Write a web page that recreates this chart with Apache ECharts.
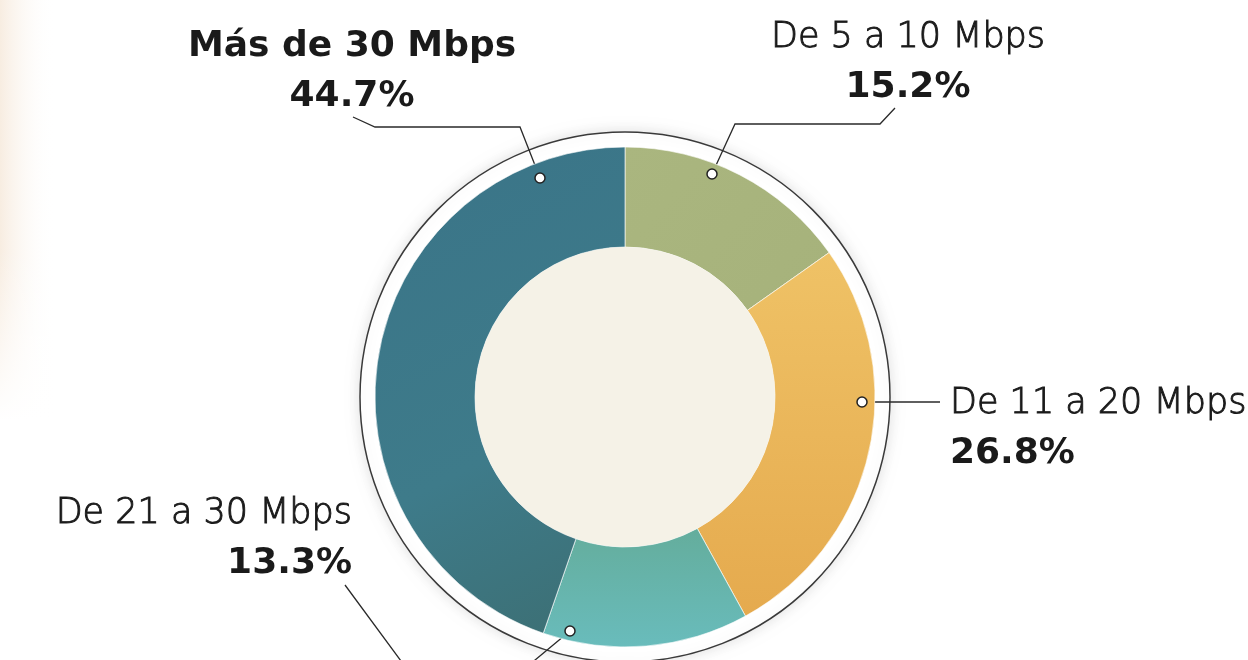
<!DOCTYPE html>
<html>
<head>
<meta charset="utf-8">
<script src="https://cdn.jsdelivr.net/npm/echarts@6/dist/echarts.min.js"></script>
<style>
html,body{margin:0;padding:0;background:#fff;}
#main{width:1248px;height:660px;}
</style>
</head>
<body>
<div id="main"></div>
<script>
// datos
var categorias = ['De 5 a 10 Mbps', 'De 11 a 20 Mbps', 'De 21 a 30 Mbps', 'Más de 30 Mbps'];
var porcentajes = [15.2, 26.8, 13.3, 44.7];

var colores = [
    new echarts.graphic.LinearGradient(0, 0, 1, 1, [{offset: 0, color: '#aab67f'}, {offset: 1, color: '#a6b27b'}]),
    new echarts.graphic.LinearGradient(0, 0, 0, 1, [{offset: 0, color: '#efc266'}, {offset: 1, color: '#e5aa4e'}]),
    new echarts.graphic.LinearGradient(0, 0, 0, 1, [{offset: 0, color: '#64ad9c'}, {offset: 1, color: '#69bcbc'}]),
    new echarts.graphic.LinearGradient(0, 0, 1, 1, [{offset: 0, color: '#3a7488'}, {offset: 0.6, color: '#3e7b8a'}, {offset: 1, color: '#3c6e72'}])
];

// posicion de etiquetas y lineas guia
var posEtiquetas = [
    {x: 908, y: 13, align: 'center'},
    {x: 950, y: 379, align: 'left'},
    {x: 352, y: 489, align: 'right'},
    {x: 352, y: 22, align: 'center'}
];
var lineas = [
    [[712, 174], [735, 124], [880, 124], [895, 108]],
    [[862, 402], [940, 402]],
    [[570, 631], [511, 680], [415, 680], [345, 585]],
    [[540, 178], [520, 127], [375, 127], [353, 117]]
];

var datos = categorias.map(function (c, i) {
    return {name: c, value: porcentajes[i], itemStyle: {color: colores[i]}};
});

var puntos = lineas.map(function (l) {
    return {
        type: 'circle',
        z: 100,
        shape: {cx: l[0][0], cy: l[0][1], r: 5},
        style: {fill: '#fff', stroke: '#222', lineWidth: 1.5}
    };
});

var fuente = 'DejaVu Sans';

var myChart = echarts.init(document.getElementById('main'));

var option = {
    backgroundColor: '#fff',
    textStyle: {fontFamily: fuente},
    graphic: [{
        type: 'rect',
        z: -10,
        shape: {x: 0, y: 0, width: 55, height: 420},
        style: {
            fill: new echarts.graphic.LinearGradient(0, 0, 1, 0, [
                {offset: 0, color: 'rgba(244,229,212,0.7)'},
                {offset: 1, color: 'rgba(255,255,255,0)'}
            ])
        }
    }, {
        type: 'rect',
        z: -9,
        shape: {x: 0, y: 250, width: 60, height: 171},
        style: {
            fill: new echarts.graphic.LinearGradient(0, 0, 0, 1, [
                {offset: 0, color: 'rgba(255,255,255,0)'},
                {offset: 1, color: 'rgba(255,255,255,1)'}
            ])
        }
    }].concat(puntos),
    series: [
        {
            // aro exterior
            type: 'pie',
            silent: true,
            z: 1,
            center: [625, 397],
            radius: [0, 265],
            label: {show: false},
            labelLine: {show: false},
            itemStyle: {
                color: '#fff',
                borderColor: '#3a3a3a',
                borderWidth: 1.5,
                shadowBlur: 14,
                shadowColor: 'rgba(0,0,0,0.12)'
            },
            data: [{value: 1, name: ''}]
        },
        {
            type: 'pie',
            z: 2,
            center: [625, 397],
            radius: [150, 250],
            startAngle: 90,
            clockwise: true,
            avoidLabelOverlap: false,
            silent: true,
            itemStyle: {borderColor: 'rgba(255,255,255,0.35)', borderWidth: 1},
            label: {
                show: true,
                formatter: function (p) {
                    var pct = p.value.toFixed(1) + '%';
                    if (p.dataIndex === 3) {
                        return '{b|' + p.name + '}\n{p|' + pct + '}';
                    }
                    return '{n|' + p.name + '}\n{p|' + pct + '}';
                },
                rich: {
                    // trazo fino para engrosar un poco la letra ligera
                    n: {fontSize: 35, fontWeight: 300, color: '#1a1a1a', lineHeight: 50, fontFamily: fuente,
                        textBorderColor: '#1a1a1a', textBorderWidth: 0.9},
                    b: {fontSize: 36, fontWeight: 'bold', color: '#1a1a1a', lineHeight: 50, fontFamily: fuente},
                    p: {fontSize: 36, fontWeight: 'bold', color: '#1a1a1a', lineHeight: 50, fontFamily: fuente}
                }
            },
            labelLine: {
                show: true,
                lineStyle: {color: '#2a2a2a', width: 1.3}
            },
            labelLayout: function (params) {
                var p = posEtiquetas[params.dataIndex];
                return {
                    x: p.x,
                    y: p.y,
                    align: p.align,
                    verticalAlign: 'top',
                    labelLinePoints: lineas[params.dataIndex]
                };
            },
            data: datos
        },
        {
            // centro
            type: 'pie',
            silent: true,
            z: 3,
            center: [625, 397],
            radius: [0, 150],
            label: {show: false},
            labelLine: {show: false},
            itemStyle: {color: '#f5f2e7'},
            data: [{value: 1, name: ''}]
        }
    ]
};

myChart.setOption(option);
</script>
</body>
</html>
